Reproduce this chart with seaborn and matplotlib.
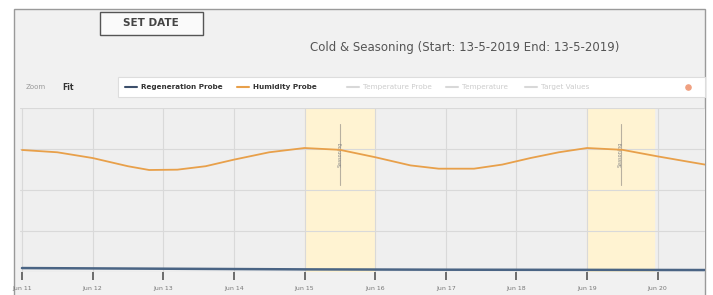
import matplotlib
matplotlib.use("Agg")
import matplotlib.pyplot as plt
import seaborn as sns
import pandas as pd
from matplotlib.patches import Rectangle

# ---- data ----
tick_labels = ["Jun 11", "Jun 12", "Jun 13", "Jun 14", "Jun 15",
               "Jun 16", "Jun 17", "Jun 18", "Jun 19", "Jun 20"]
hum_x = [0.0, 0.5, 1.0, 1.5, 1.8, 2.2, 2.6, 3.0, 3.5, 4.0, 4.5, 5.0, 5.5,
         5.9, 6.4, 6.8, 7.2, 7.6, 8.0, 8.5, 9.0, 9.4, 9.67]
hum_y = [74.4, 73.0, 69.5, 64.5, 62.2, 62.4, 64.5, 68.5, 73.0, 75.6, 74.5,
         70.0, 65.0, 63.0, 63.0, 65.5, 69.5, 73.0, 75.6, 74.5, 70.5, 67.5, 65.5]
reg_x = [0.0, 2.0, 4.0, 6.0, 8.0, 9.67]
reg_y = [2.4, 2.0, 1.6, 1.4, 1.3, 1.2]
season_spans = [(4.0, 5.0), (8.0, 8.95)]
legend_items = ["Regeneration Probe", "Humidity Probe", "Temperature Probe",
                "Temperature", "Target Values"]
title_text = "Cold & Seasoning (Start: 13-5-2019 End: 13-5-2019)"

sns.set_theme(style="white")
plt.rcParams["font.family"] = ["DejaVu Sans"]

W, H = 713, 295
fig = plt.figure(figsize=(W / 100, H / 100), dpi=100)
fig.patch.set_facecolor("white")

def fx(px):
    return px / W

def fy(py):
    return 1 - py / H

# outer panel
bg = fig.add_axes([0, 0, 1, 1], zorder=0)
bg.set_xlim(0, W)
bg.set_ylim(H, 0)
bg.axis("off")
bg.add_patch(Rectangle((14, 9), 691, 290, facecolor="#f1f1f1",
                       edgecolor="#9a9a9a", lw=1.0))
# SET DATE button
bg.add_patch(Rectangle((100, 12), 103, 23, facecolor="#fafafa",
                       edgecolor="#555555", lw=1.0))
bg.text(151, 23.5, "SET DATE", ha="center", va="center", fontsize=7.5,
        fontweight="bold", color="#444444")
bg.text(465, 47, title_text, ha="center", va="center", fontsize=8.5,
        color="#555555")
# legend row
bg.text(26, 87, "Zoom", ha="left", va="center", fontsize=5, color="#9a9a9a")
bg.text(62, 87, "Fit", ha="left", va="center", fontsize=5.5, color="#333333",
        fontweight="bold")
bg.add_patch(Rectangle((118, 77), 587, 20, facecolor="white",
                       edgecolor="#dddddd", lw=0.8))
leg_x = [125, 237, 347, 446, 525]
leg_c = ["#3c4f6b", "#e8a04a", "#d8d8d8", "#d8d8d8", "#d8d8d8"]
leg_t = ["#333333", "#333333", "#cccccc", "#cccccc", "#cccccc"]
for x0, lab, c, tc in zip(leg_x, legend_items, leg_c, leg_t):
    bg.plot([x0, x0 + 12], [87, 87], color=c, lw=1.5)
    bg.text(x0 + 16, 87, lab, ha="left", va="center", fontsize=5.2,
            color=tc, fontweight="bold" if tc == "#333333" else "normal")
bg.scatter([688], [87], s=14, color="#f0a080", zorder=3)

# main plot
ax = fig.add_axes([fx(20), fy(272), fx(705 - 20), (272 - 108) / H], zorder=1)
ax.set_facecolor("#efefef")
for s in ax.spines.values():
    s.set_visible(False)
for a, b in season_spans:
    ax.axvspan(a, b, color="#fff3d2", zorder=0.5)
    mid = (a + b) / 2
    ax.plot([mid, mid], [53, 90], color="#b8b0a0", lw=0.8, zorder=2)
    ax.text(mid, 72, "Seasoning", rotation=90, ha="center", va="center",
            fontsize=3.5, color="#888888", zorder=3)
ax.set_yticks([0, 25, 50, 75, 100])
ax.set_xticks(range(len(tick_labels)))
ax.grid(True, color="#d9d9d9", lw=0.8, zorder=0.6)
ax.set_axisbelow(True)

hum = pd.DataFrame({"x": hum_x, "y": hum_y})
reg = pd.DataFrame({"x": reg_x, "y": reg_y})
sns.lineplot(data=hum, x="x", y="y", ax=ax, color="#e8a04a", lw=1.3, zorder=4)
sns.lineplot(data=reg, x="x", y="y", ax=ax, color="#4a6484", lw=1.8, zorder=4)

ax.set_xlim(-0.028, 9.67)
ax.set_ylim(0, 100)
ax.set_xlabel("")
ax.set_ylabel("")
ax.set_yticklabels([])
ax.set_xticklabels(tick_labels, fontsize=4.5, color="#777777")
ax.tick_params(axis="x", bottom=True, length=6, width=1.2, color="#555555",
               pad=4)
ax.tick_params(axis="y", left=False)

fig.savefig("out.png", dpi=100)
